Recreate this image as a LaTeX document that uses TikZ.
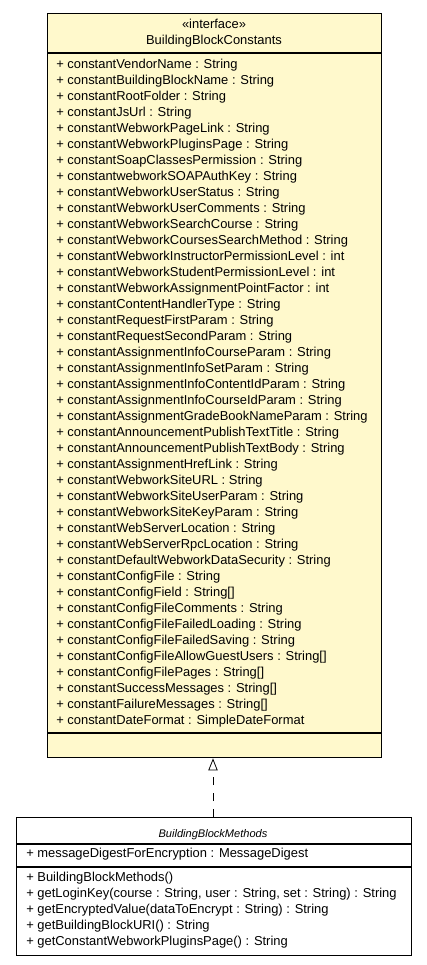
\documentclass[tikz,border=0pt]{standalone}
\usepackage{fontspec}
\setmainfont{Liberation Sans}
\usetikzlibrary{arrows.meta}
\definecolor{classfill}{RGB}{255,249,204}

\begin{document}
\begin{tikzpicture}[x=0.75pt, y=-0.75pt,
    classbox/.style={draw, line width=1pt, inner sep=0pt, anchor=north west},
    member/.style={anchor=base west, inner sep=0pt, align=left,
      font=\fontsize{9.7}{12}\selectfont},
    title/.style={anchor=base, inner sep=0pt, font=\fontsize{9.7}{12}\selectfont},
    realize/.style={draw, line width=0.6pt, dash pattern=on 6pt off 6pt,
      -{Triangle[open, length=9pt, width=7pt, fill=white]}}]
    \useasboundingbox (0,0) rectangle (427,965);

    % インターフェース
    \node[classbox, fill=classfill, minimum width=250.5pt, minimum height=558pt] (constants) at (47,13) {};
    \draw[line width=1pt] (47,53) -- (381,53);
    \draw[line width=1pt] (47,733) -- (381,733);
    \node[title] (stereo) at (214,28) {«interface»};
    \node[title] (constname) at (214,44) {BuildingBlockConstants};
    % 属性 (基準は最終行)
    \node[member] (constattrs) at (56,724) {%
      + constantVendorName : String\\
      + constantBuildingBlockName : String\\
      + constantRootFolder : String\\
      + constantJsUrl : String\\
      + constantWebworkPageLink : String\\
      + constantWebworkPluginsPage : String\\
      + constantSoapClassesPermission : String\\
      + constantwebworkSOAPAuthKey : String\\
      + constantWebworkUserStatus : String\\
      + constantWebworkUserComments : String\\
      + constantWebworkSearchCourse : String\\
      + constantWebworkCoursesSearchMethod : String\\
      + constantWebworkInstructorPermissionLevel : int\\
      + constantWebworkStudentPermissionLevel : int\\
      + constantWebworkAssignmentPointFactor : int\\
      + constantContentHandlerType : String\\
      + constantRequestFirstParam : String\\
      + constantRequestSecondParam : String\\
      + constantAssignmentInfoCourseParam : String\\
      + constantAssignmentInfoSetParam : String\\
      + constantAssignmentInfoContentIdParam : String\\
      + constantAssignmentInfoCourseIdParam : String\\
      + constantAssignmentGradeBookNameParam : String\\
      + constantAnnouncementPublishTextTitle : String\\
      + constantAnnouncementPublishTextBody : String\\
      + constantAssignmentHrefLink : String\\
      + constantWebworkSiteURL : String\\
      + constantWebworkSiteUserParam : String\\
      + constantWebworkSiteKeyParam : String\\
      + constantWebServerLocation : String\\
      + constantWebServerRpcLocation : String\\
      + constantDefaultWebworkDataSecurity : String\\
      + constantConfigFile : String\\
      + constantConfigField : String[]\\
      + constantConfigFileComments : String\\
      + constantConfigFileFailedLoading : String\\
      + constantConfigFileFailedSaving : String\\
      + constantConfigFileAllowGuestUsers : String[]\\
      + constantConfigFilePages : String[]\\
      + constantSuccessMessages : String[]\\
      + constantFailureMessages : String[]\\
      + constantDateFormat : SimpleDateFormat};

    % クラス
    \node[classbox, fill=white, minimum width=296.25pt, minimum height=103.5pt] (methods) at (16,817) {};
    \draw[line width=1pt] (16,844) -- (411,844);
    \draw[line width=1pt] (16,867) -- (411,867);
    \node[title, font=\fontsize{8.3}{10}\selectfont\itshape] (methname) at (213,837) {BuildingBlockMethods};
    \node[member] (methattrs) at (26,857) {+ messageDigestForEncryption : MessageDigest};
    \node[member] (methops) at (26,945) {%
      + BuildingBlockMethods()\\
      + getLoginKey(course : String, user : String, set : String) : String\\
      + getEncryptedValue(dataToEncrypt : String) : String\\
      + getBuildingBlockURI() : String\\
      + getConstantWebworkPluginsPage() : String};

    % 実現
    \draw[realize] (methods.north -| 213,0) -- (constants.south -| 213,0);
\end{tikzpicture}
\end{document}
